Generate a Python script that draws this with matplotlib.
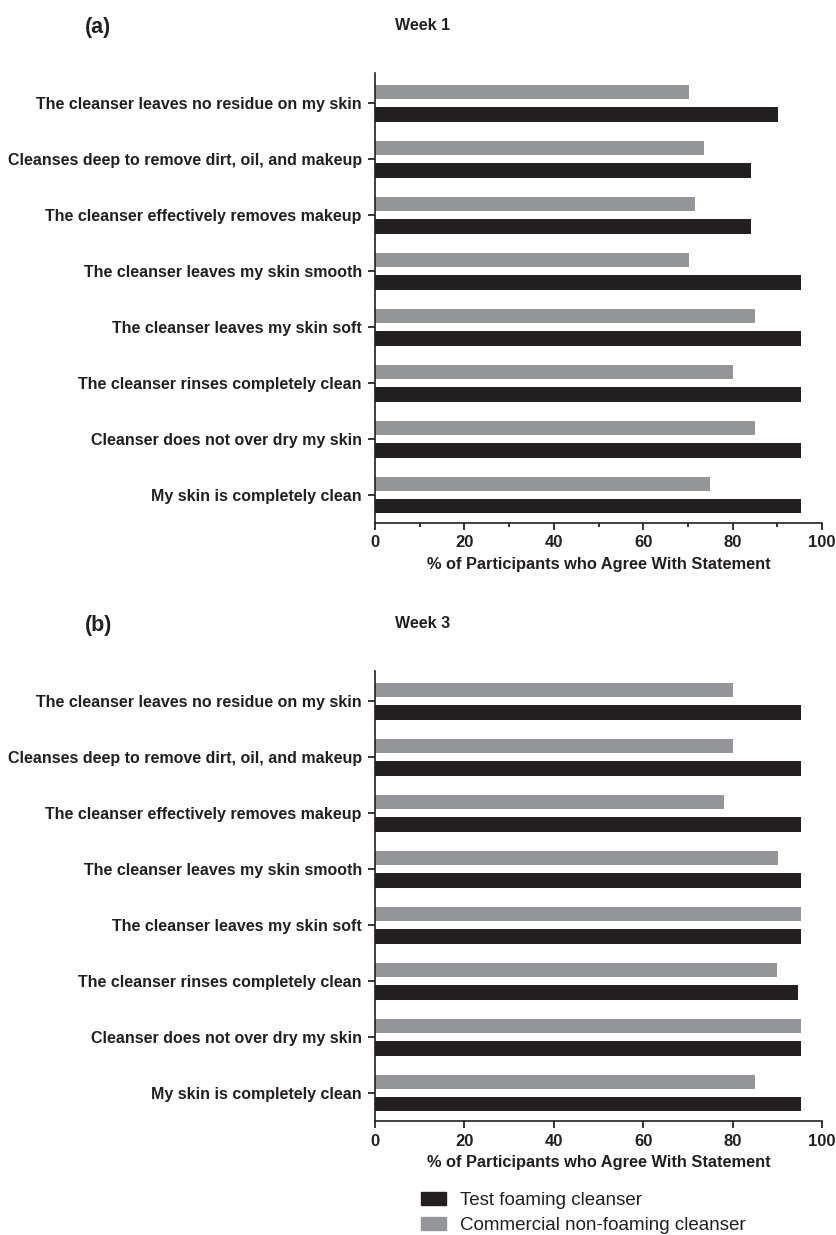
import matplotlib
matplotlib.use("Agg")
import matplotlib.pyplot as plt
from matplotlib.patches import Patch
from matplotlib.ticker import MultipleLocator
import numpy as np

plt.rcParams['font.family'] = ['Liberation Sans', 'DejaVu Sans']

statements = [
    "The cleanser leaves no residue on my skin",
    "Cleanses deep to remove dirt, oil, and makeup",
    "The cleanser effectively removes makeup",
    "The cleanser leaves my skin smooth",
    "The cleanser leaves my skin soft",
    "The cleanser rinses completely clean",
    "Cleanser does not over dry my skin",
    "My skin is completely clean",
]

# % agreeing, week 1
test_wk1 = [90.2, 84.2, 84.2, 95.2, 95.2, 95.2, 95.2, 95.2]
comm_wk1 = [70.2, 73.7, 71.6, 70.2, 85.1, 80.0, 85.1, 75.0]

# % agreeing, week 3
test_wk3 = [95.2, 95.2, 95.2, 95.2, 95.2, 94.7, 95.2, 95.2]
comm_wk3 = [80.0, 80.0, 78.0, 90.2, 95.2, 90.0, 95.2, 85.1]

BLACK = "#231f20"
GREY = "#939598"
TXT = "#231f20"

fig = plt.figure(figsize=(8.37, 12.35), dpi=100)


def panel(rect, test, comm, tag, week, minor):
    ax = fig.add_axes(rect)
    y = np.arange(len(statements))
    h = 0.26
    ax.barh(y - 0.2, comm, height=h, color=GREY)
    ax.barh(y + 0.2, test, height=h, color=BLACK)
    ax.set_ylim(7.5, -0.54)
    ax.set_xlim(0, 100)
    ax.set_yticks(y)
    ax.set_yticklabels(statements, fontsize=11.5, fontweight='bold', color=TXT)
    ax.set_xticks(range(0, 101, 20))
    ax.tick_params(axis='x', labelsize=12, labelcolor=TXT, length=5, width=1.1, pad=4)
    ax.tick_params(axis='y', length=5, width=1.1, pad=4.5)
    for lab in ax.get_xticklabels():
        lab.set_fontweight('bold')
    if minor:
        ax.xaxis.set_minor_locator(MultipleLocator(10))
        ax.tick_params(axis='x', which='minor', length=3, width=1.1)
    for s in ['top', 'right']:
        ax.spines[s].set_visible(False)
    for s in ['left', 'bottom']:
        ax.spines[s].set_linewidth(1.2)
        ax.spines[s].set_color(BLACK)
    ax.set_xlabel("% of Participants who Agree With Statement", fontsize=11.8,
                  fontweight='bold', color=TXT, labelpad=5)
    top = rect[1] + rect[3]
    fig.text(85 / 837, top + 46 / 1235, tag, fontsize=15.5, fontweight='bold',
             color=TXT, va='center', ha='left')
    fig.text(395 / 837, top + 48 / 1235, week, fontsize=11.5, fontweight='bold',
             color=TXT, va='center', ha='left')
    return ax


panel([375 / 837, 1 - 523 / 1235, 447 / 837, 450 / 1235], test_wk1, comm_wk1,
      "(a)", "Week 1", True)
panel([375 / 837, 1 - 1121 / 1235, 447 / 837, 450 / 1235], test_wk3, comm_wk3,
      "(b)", "Week 3", False)

handles = [Patch(color=BLACK, label="Test foaming cleanser"),
           Patch(color=GREY, label="Commercial non-foaming cleanser")]
leg = fig.legend(handles=handles, loc='upper left', bbox_to_anchor=(0.503, 1 - 1192 / 1235),
                 frameon=False, fontsize=13.5, handlelength=1.35, handleheight=0.65,
                 handletextpad=0.75, labelspacing=0.42, borderpad=0, borderaxespad=0)
for t in leg.get_texts():
    t.set_color(TXT)

fig.savefig("out.png", dpi=100)
